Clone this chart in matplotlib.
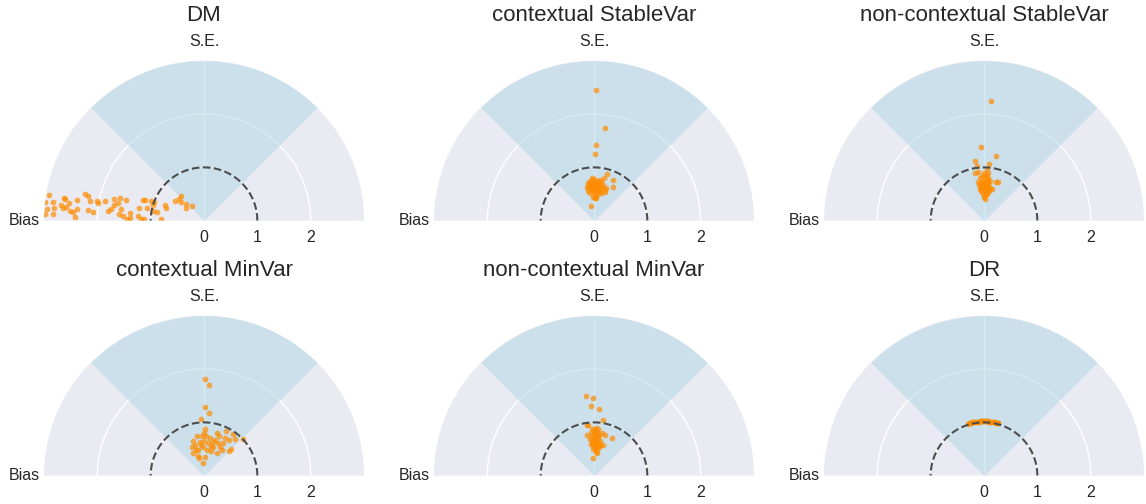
import numpy as np
import matplotlib
matplotlib.use("Agg")
import matplotlib.pyplot as plt
import seaborn as sns

# ---------------- data (bias, S.E.) per estimator ----------------
titles = ["DM", "contextual StableVar", "non-contextual StableVar",
          "contextual MinVar", "non-contextual MinVar", "DR"]

dm_bias = [-2.91, -2.98, -2.83, -2.95, -2.82, -2.99, -2.83, -2.63, -2.61, -2.54,
           -2.68, -2.58, -2.65, -2.52, -2.46, -2.38, -2.38, -2.41, -2.24, -2.18,
           -2.14, -2.18, -2.00, -1.98, -2.08, -1.86, -1.80, -1.75, -1.68, -1.69,
           -1.58, -1.61, -1.46, -1.56, -1.60, -1.38, -1.39, -1.44, -1.52, -1.24,
           -1.18, -1.13, -1.14, -1.11, -1.21, -1.06, -0.99, -0.96, -0.93, -0.96,
           -0.89, -0.81, -0.74, -0.71, -0.54, -0.46, -0.43, -0.44, -0.33, -0.23,
           -0.33]
dm_se = [0.48, 0.36, 0.36, 0.22, 0.23, 0.12, 0.12, 0.43, 0.41, 0.34,
         0.29, 0.26, 0.23, 0.18, 0.17, 0.38, 0.22, 0.06, 0.50, 0.47,
         0.36, 0.20, 0.36, 0.33, 0.17, 0.36, 0.18, 0.22, 0.41, 0.29,
         0.43, 0.33, 0.39, 0.22, 0.12, 0.14, 0.06, 0.04, 0.09, 0.09,
         0.04, 0.04, 0.39, 0.39, 0.24, 0.24, 0.37, 0.29, 0.36, 0.18,
         0.17, 0.03, 0.29, 0.24, 0.36, 0.41, 0.47, 0.36, 0.31, 0.28,
         0.23]

csv_bias = [-0.12, -0.10, -0.08, -0.06, -0.05, -0.03, -0.02, 0.00, 0.01, 0.03,
            0.04, 0.05, 0.07, 0.08, 0.10, 0.12, 0.14, 0.15, 0.17, -0.14,
            -0.11, -0.07, -0.04, 0.00, 0.02, 0.06, 0.09, 0.11, 0.18, 0.20,
            0.23, -0.02, 0.04, 0.00, -0.09, 0.06, 0.13, -0.01, 0.08, -0.05,
            0.03, 0.21, 0.04, 0.02, 0.24, 0.36, 0.35, 0.21, -0.05, 0.02]
csv_se = [0.70, 0.62, 0.75, 0.68, 0.58, 0.72, 0.64, 0.60, 0.70, 0.66,
          0.55, 0.74, 0.62, 0.68, 0.58, 0.65, 0.72, 0.60, 0.66, 0.64,
          0.56, 0.52, 0.80, 0.78, 0.50, 0.48, 0.54, 0.76, 0.80, 0.57,
          0.62, 0.45, 0.42, 0.66, 0.66, 0.64, 0.52, 0.55, 0.73, 0.63,
          2.45, 1.73, 1.41, 1.25, 0.88, 0.76, 0.64, 0.54, 0.28, 0.42]

nsv_bias = [-0.08, -0.06, -0.05, -0.03, -0.02, 0.00, 0.00, 0.02, 0.03, 0.04,
            0.05, 0.06, 0.07, 0.08, 0.09, 0.10, 0.11, -0.10, -0.07, -0.04,
            0.01, 0.04, -0.11, 0.12, -0.02, 0.02, 0.06, 0.00, 0.08, -0.05,
            0.03, 0.05, -0.01, 0.07, 0.02, 0.15, -0.12, 0.00,
            0.14, -0.06, 0.23, -0.16, 0.09, -0.13, 0.23, 0.26, 0.01, 0.08,
            -0.17, 0.05]
nsv_se = [0.60, 0.70, 0.55, 0.65, 0.75, 0.58, 0.68, 0.62, 0.72, 0.52,
          0.66, 0.78, 0.58, 0.70, 0.63, 0.55, 0.74, 0.66, 0.80, 0.84,
          0.82, 0.86, 0.72, 0.62, 0.50, 0.48, 0.50, 0.45, 0.80, 0.62,
          0.57, 0.73, 0.71, 0.65, 0.68, 0.60, 0.92, 0.90,
          2.25, 1.38, 1.21, 1.11, 1.06, 1.03, 0.73, 0.72, 0.40, 0.89,
          0.89, 0.96]

cmv_bias = [0.02, 0.10, 0.01, 0.10, -0.06, 0.41, 0.54, 0.73, 0.59, 0.46,
            0.50, 0.47, 0.36, 0.30, 0.25, 0.02, 0.00, -0.04, -0.14, -0.21,
            -0.17, -0.23, -0.20, -0.11, -0.09, -0.02, 0.02, 0.14, 0.17, 0.08,
            0.11, 0.21, 0.04, -0.08, -0.01, 0.24, 0.33, -0.15, -0.06, 0.05,
            0.13, 0.27, 0.39, 0.00, 0.17, -0.11, 0.29]
cmv_se = [1.81, 1.71, 1.28, 1.17, 1.06, 0.83, 0.78, 0.69, 0.69, 0.67,
          0.51, 0.46, 0.62, 0.54, 0.81, 0.87, 0.81, 0.74, 0.74, 0.66,
          0.58, 0.53, 0.42, 0.48, 0.33, 0.24, 0.35, 0.46, 0.53, 0.61,
          0.70, 0.67, 0.74, 0.64, 0.54, 0.42, 0.48, 0.48, 0.58, 0.48,
          0.55, 0.61, 0.70, 0.66, 0.64, 0.37, 0.74]

nmv_bias = [-0.06, -0.04, -0.03, -0.02, -0.01, 0.00, 0.00, 0.01, 0.02, 0.02,
            0.03, 0.04, 0.05, 0.06, 0.06, 0.07, 0.08, 0.09, 0.10, 0.11,
            -0.05, -0.03, 0.04, 0.08, -0.08, 0.12, 0.03, 0.01, -0.02, 0.05,
            0.07, 0.00, -0.13, 0.21, 0.17, 0.15,
            -0.15, -0.02, -0.06, 0.10, 0.16, -0.14, -0.11, 0.34, -0.02, 0.05]
nmv_se = [0.80, 0.72, 0.64, 0.56, 0.50, 0.78, 0.68, 0.60, 0.52, 0.86,
          0.74, 0.66, 0.58, 0.48, 0.82, 0.70, 0.62, 0.54, 0.76, 0.66,
          0.60, 0.88, 0.90, 0.88, 0.68, 0.58, 0.45, 0.70, 0.62, 0.78,
          0.55, 0.84, 0.76, 0.76, 0.58, 0.80,
          1.50, 1.46, 1.31, 1.26, 1.04, 0.95, 0.96, 0.70, 0.33, 0.42]

dr_bias = [-0.30, -0.28, -0.26, -0.24, -0.22, -0.20, -0.18, -0.16, -0.14, -0.12,
           -0.10, -0.08, -0.06, -0.04, -0.02, 0.00, 0.02, 0.04, 0.06, 0.08,
           0.10, 0.12, 0.14, 0.16, 0.18, 0.20, 0.22, 0.24, 0.26, 0.27]
dr_se = [0.975, 0.985, 0.990, 0.995, 0.998, 1.002, 1.005, 1.008, 1.012, 1.013,
         1.016, 1.018, 1.019, 1.020, 1.022, 1.021, 1.020, 1.021, 1.019, 1.017,
         1.016, 1.013, 1.010, 1.008, 1.004, 1.000, 0.996, 0.990, 0.985, 0.982]

series = [(dm_bias, dm_se), (csv_bias, csv_se), (nsv_bias, nsv_se),
          (cmv_bias, cmv_se), (nmv_bias, nmv_se), (dr_bias, dr_se)]

r_ticks = [0, 1, 2]
theta_tick_deg = [90, 180]
theta_tick_labels = ["S.E.", "Bias"]

# ---------------- plotting ----------------
sns.set_style("darkgrid")
plt.rcParams["font.family"] = ["Liberation Sans", "DejaVu Sans"]

W, H = 1146, 504
fig = plt.figure(figsize=(W / 100, H / 100), dpi=100)

R = 160.0
centers = [(204, 220.7), (594, 220.7), (984, 220.7),
           (204, 475.7), (594, 475.7), (984, 475.7)]

for (cx, cy), title, (b, s) in zip(centers, titles, series):
    # square box; the half-disc sits in its vertical middle
    ax = fig.add_axes([(cx - R) / W, (H - (cy + R / 2)) / H, 2 * R / W, 2 * R / H],
                      projection="polar")
    ax.set_thetamin(0)
    ax.set_thetamax(180)
    ax.set_ylim(0, 3)
    ax.set_facecolor("#EAEAF2")
    ax.grid(True, color="white", lw=1.0)

    th = np.linspace(np.pi / 4, 3 * np.pi / 4, 200)
    ax.fill_between(th, 0, 3, color="lightblue", alpha=0.5, lw=0, zorder=1)

    tc = np.linspace(0, np.pi, 300)
    ax.plot(tc, np.ones_like(tc), "--", color="0.3", lw=1.5, zorder=4)

    b = np.asarray(b)
    s = np.asarray(s)
    ax.scatter(np.arctan2(s, b), np.hypot(b, s), s=17, color="darkorange",
               alpha=0.7, lw=0, zorder=3)

    ax.set_yticks(r_ticks)
    ax.set_xticks(np.deg2rad(theta_tick_deg))
    ax.set_xticklabels(theta_tick_labels)
    ax.tick_params(axis="both", labelsize=11.5, colors="0.15")
    for sp in ax.spines.values():
        sp.set_visible(False)
    ax.set_title(title, fontsize=16, y=0.875, pad=0, color="0.15")

fig.savefig("out.png", dpi=100)
